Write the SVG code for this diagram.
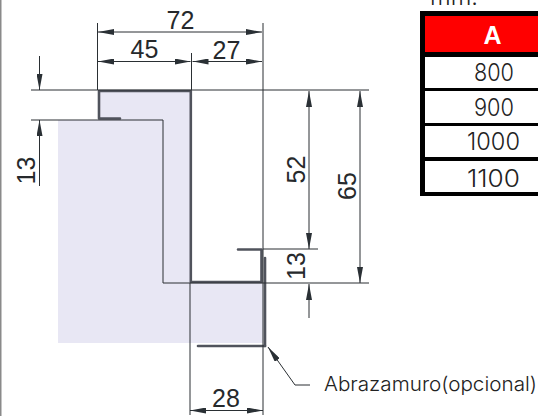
<svg xmlns="http://www.w3.org/2000/svg" width="538" height="416" viewBox="0 0 538 416">
<style>
.thin{stroke:#2a2f33;stroke-width:1;fill:none}
.prof{stroke:#50535c;stroke-width:2.6;fill:none;stroke-linejoin:round;stroke-linecap:round}
.dim{font-family:"Liberation Sans",Arial,sans-serif;font-size:25px;fill:#26292c;text-anchor:middle}
.cell{font-family:"Inter","Liberation Sans",sans-serif;font-weight:300;font-size:24px;fill:#222;text-anchor:middle}
.bar{fill:#000}
</style>
<defs>
<marker id="a" viewBox="0 0 16 6" refX="16" refY="3" markerWidth="16" markerHeight="6" markerUnits="userSpaceOnUse" orient="auto-start-reverse"><path d="M0 0L16 3L0 6z" fill="#2a3035"/></marker>
</defs>
<rect width="538" height="416" fill="#fff"/>
<rect x="0" y="0" width="1.500" height="416" fill="#8a8a8a"/>
<g id="shade"><path d="M58 120H100V92H190V282H263V343H58z" fill="#e8e7f4"/></g>
<g id="profile">
<path class="prof" d="M120 118.500H99V91H190.800V282H261.500V249.500H238"/>
<path class="prof" d="M265 258V346"/>
<path class="prof" stroke-width="2" d="M265 346H198"/>
</g>
<g id="connectors">
<path class="thin" d="M97.500 23V90M191.500 53V90M263 23V415M31 90H369M31 120H163V283H369M190 283V415M263 249H318"/>
<path class="thin" marker-start="url(#a)" marker-end="url(#a)" d="M98 32H262"/>
<path class="thin" marker-start="url(#a)" marker-end="url(#a)" d="M98 61.500H190.500"/>
<path class="thin" marker-start="url(#a)" marker-end="url(#a)" d="M192.500 61.500H262"/>
<path class="thin" marker-start="url(#a)" marker-end="url(#a)" d="M190 410.500H263"/>
<path class="thin" marker-end="url(#a)" d="M39.500 56V90"/>
<path class="thin" marker-end="url(#a)" d="M39.500 186V120"/>
<path class="thin" marker-start="url(#a)" marker-end="url(#a)" d="M309 91V249"/>
<path class="thin" marker-end="url(#a)" d="M309 318V284"/>
<path class="thin" marker-start="url(#a)" marker-end="url(#a)" d="M360 91V283"/>
<path class="thin" marker-end="url(#a)" d="M310 385H295L268 347"/>
</g>
<g id="labels">
<text class="dim" x="180.500" y="28.500">72</text>
<text class="dim" x="144.500" y="57.500">45</text>
<text class="dim" x="226.500" y="58.500">27</text>
<text class="dim" x="226" y="407">28</text>
<text class="dim" transform="translate(35 170.500) rotate(-90)">13</text>
<text class="dim" transform="translate(305 169.500) rotate(-90)">52</text>
<text class="dim" transform="translate(305 266) rotate(-90)">13</text>
<text class="dim" transform="translate(356 186) rotate(-90)">65</text>
<text x="324" y="391" font-family="Inter,'Liberation Sans',sans-serif" font-weight="300" font-size="20" fill="#222" textLength="213" lengthAdjust="spacingAndGlyphs">Abrazamuro(opcional)</text>
</g>
<g id="table">
<rect x="425" y="16" width="113" height="36" fill="#f00"/>
<rect class="bar" x="420" y="11" width="5" height="185"/>
<rect class="bar" x="420" y="11" width="118" height="5"/>
<rect class="bar" x="420" y="52" width="118" height="5"/>
<rect class="bar" x="420" y="88" width="118" height="3"/>
<rect class="bar" x="420" y="123" width="118" height="3"/>
<rect class="bar" x="420" y="157" width="118" height="4"/>
<rect class="bar" x="420" y="192" width="118" height="4"/>
<text x="492.500" y="44" font-family="'Liberation Sans',sans-serif" font-weight="700" font-size="25" fill="#fff" text-anchor="middle">A</text>
<text class="cell" x="494" y="81" textLength="40" lengthAdjust="spacingAndGlyphs">800</text>
<text class="cell" x="494" y="116" textLength="40" lengthAdjust="spacingAndGlyphs">900</text>
<text class="cell" x="493.500" y="150" textLength="53" lengthAdjust="spacingAndGlyphs">1000</text>
<text class="cell" x="493.500" y="187" textLength="53" lengthAdjust="spacingAndGlyphs">1100</text>
<text x="430" y="5" font-family="Inter,'Liberation Sans',sans-serif" font-weight="300" font-size="24" fill="#222" textLength="48" lengthAdjust="spacingAndGlyphs">mm.</text>
</g>
</svg>
